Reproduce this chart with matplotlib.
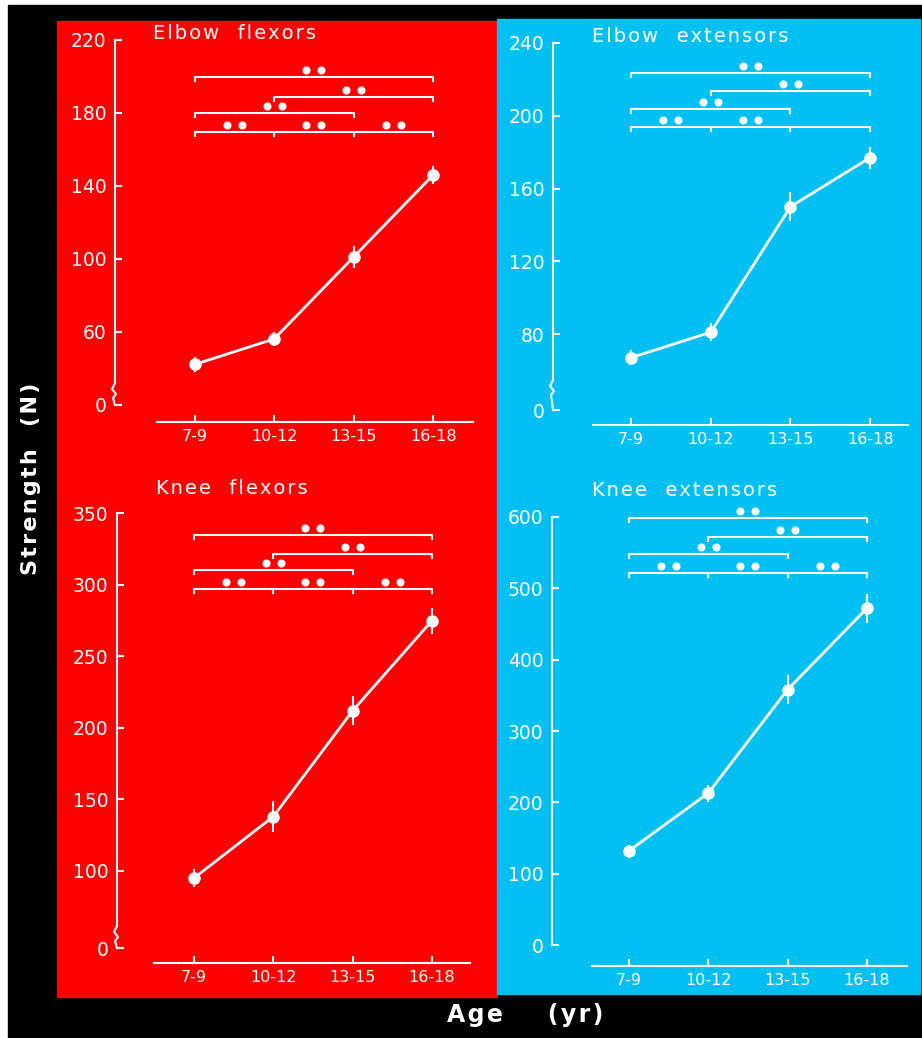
import matplotlib
matplotlib.use("Agg")
import matplotlib.pyplot as plt
from matplotlib.patches import Rectangle

W, H = 922, 1038

groups = ["7-9", "10-12", "13-15", "16-18"]

# strength (N), mean and error bar half-length per age group
elbow_flex = [42, 56, 101, 146]
elbow_flex_err = [4, 4, 6, 5]
elbow_ext = [67, 81, 150, 177]
elbow_ext_err = [4, 5, 8, 6]
knee_flex = [95, 138, 212, 275]
knee_flex_err = [6, 11, 10, 9]
knee_ext = [132, 213, 358, 472]
knee_ext_err = [8, 12, 20, 20]

elbow_flex_ticks = [60, 100, 140, 180, 220]
elbow_ext_ticks = [80, 120, 160, 200, 240]
knee_flex_ticks = [100, 150, 200, 250, 300, 350]
knee_ext_ticks = [0, 100, 200, 300, 400, 500, 600]

# significance brackets: (from group, to group, level, mark)
elbow_flex_sig = [(0, 3, 199.7, "**"), (1, 3, 188.7, "**"), (0, 2, 180.0, "**"),
                  (0, 1, 169.5, "**"), (1, 2, 169.5, "**"), (2, 3, 169.5, "**")]
elbow_ext_sig = [(0, 3, 223.5, "**"), (1, 3, 213.6, "**"), (0, 2, 203.7, "**"),
                 (0, 1, 193.8, "**"), (1, 2, 193.8, "**"), (2, 3, 193.8, "")]
knee_flex_sig = [(0, 3, 334.8, "**"), (1, 3, 321.9, "**"), (0, 2, 310.2, "**"),
                 (0, 1, 297.4, "**"), (1, 2, 297.4, "**"), (2, 3, 297.4, "**")]
knee_ext_sig = [(0, 3, 599.0, "**"), (1, 3, 572.0, "**"), (0, 2, 547.5, "**"),
                (0, 1, 522.0, "**"), (1, 2, 522.0, "**"), (2, 3, 522.0, "**")]

RED = "#ff0000"
CYAN = "#00bff3"
FONT = "DejaVu Sans"


def fx(px):
    return px / W


def fy(py):
    return 1 - py / H


def spaced(s):
    # widen lettering a little with hair spaces
    return "\u200a".join(s)


def draw_panel(fig, box, xlim, ylim, xstart, yticks, zero_at, spine_lo,
               means, errs, sig, title, title_xy):
    left, top, right, bottom = box
    ax = fig.add_axes([fx(left), fy(bottom), (right - left) / W, (bottom - top) / H])
    ax.set_facecolor("none")
    ax.set_xlim(*xlim)
    ax.set_ylim(*ylim)
    # pixels -> data units
    ux = (xlim[1] - xlim[0]) / (right - left)
    uy = (ylim[1] - ylim[0]) / (bottom - top)

    for s in ["top", "right"]:
        ax.spines[s].set_visible(False)
    for s in ["left", "bottom"]:
        ax.spines[s].set_color("white")
        ax.spines[s].set_linewidth(1.5)
    ax.spines["left"].set_bounds(spine_lo, ylim[1])
    ax.spines["bottom"].set_bounds(xstart, xlim[1])

    x = list(range(len(groups)))
    ax.set_xticks(x)
    ax.set_xticklabels(groups)
    if zero_at is not None:
        ax.set_yticks([zero_at] + yticks)
        ax.set_yticklabels(["0"] + [str(t) for t in yticks])
        # axis break squiggle
        x0 = xlim[0]
        bx = [x0, x0 - 3 * ux, x0 + 1 * ux, x0 - 2 * ux, x0]
        by = [spine_lo, spine_lo - 6 * uy, spine_lo - 11 * uy,
              spine_lo - 15 * uy, zero_at]
        ax.plot(bx, by, color="white", lw=1.5, clip_on=False)
    else:
        ax.set_yticks(yticks)
        ax.set_yticklabels([str(t) for t in yticks])

    ax.tick_params(colors="white", direction="in", length=5, width=1.5)
    ax.tick_params(axis="y", labelsize=13.5, pad=6)
    ax.tick_params(axis="x", labelsize=11.5, pad=5)
    for lab in ax.get_xticklabels() + ax.get_yticklabels():
        lab.set_fontfamily(FONT)

    ax.errorbar(x, means, yerr=errs, fmt="-o", color="white", ms=8, lw=2,
                elinewidth=1.5, capsize=0, clip_on=False)

    for i, j, lev, mark in sig:
        t = 4 * uy
        ax.plot([i, i, j, j], [lev - t, lev, lev, lev - t], color="white",
                lw=1.5, clip_on=False)
        if mark:
            mid = (i + j) / 2
            ax.plot([mid - 7.5 * ux, mid + 7.5 * ux], [lev + 7 * uy] * 2, "o",
                    color="white", ms=4.8, clip_on=False)

    fig.text(fx(title_xy[0]), fy(title_xy[1]), spaced(title), color="white",
             fontsize=14, family=FONT, ha="left", va="center")
    return ax


fig = plt.figure(figsize=(W / 100, H / 100), dpi=100, facecolor="white")

fig.add_artist(Rectangle((fx(8), 0), 1 - fx(8), fy(5), transform=fig.transFigure,
                         color="black", zorder=-10))
fig.add_artist(Rectangle((fx(57), fy(997)), fx(440), 976 / H,
                         transform=fig.transFigure, color=RED, zorder=-9))
fig.add_artist(Rectangle((fx(497), fy(994)), fx(423), 975 / H,
                         transform=fig.transFigure, color=CYAN, zorder=-9))

draw_panel(fig, (115, 40, 473, 422), (-1.0, 3.5), (10.45, 220), -0.47,
           elbow_flex_ticks, 19.8, 31.8, elbow_flex, elbow_flex_err,
           elbow_flex_sig, "Elbow  flexors", (153, 33.5))
draw_panel(fig, (553, 43, 908, 425), (-0.979, 3.475), (30, 240), -0.477,
           elbow_ext_ticks, 38.2, 54.7, elbow_ext, elbow_ext_err,
           elbow_ext_sig, "Elbow  extensors", (592, 36.5))
draw_panel(fig, (117, 513.4, 470, 963), (-0.971, 3.48), (35.6, 350), -0.504,
           knee_flex_ticks, 46, 61.5, knee_flex, knee_flex_err,
           knee_flex_sig, "Knee  flexors", (156, 488.5))
draw_panel(fig, (552, 517, 907, 965.7), (-0.971, 3.506), (-29, 600), -0.467,
           knee_ext_ticks, None, 0, knee_ext, knee_ext_err,
           knee_ext_sig, "Knee  extensors", (592, 490))

fig.text(fx(31), fy(479), spaced("Strength  (N)"), rotation=90, color="white",
         fontsize=16, fontweight="bold", family=FONT, ha="center", va="center")
fig.text(fx(525), fy(1015), spaced("Age    (yr)"), color="white", fontsize=17,
         fontweight="bold", family=FONT, ha="center", va="center")

fig.savefig("out.png", dpi=100, facecolor="white")
